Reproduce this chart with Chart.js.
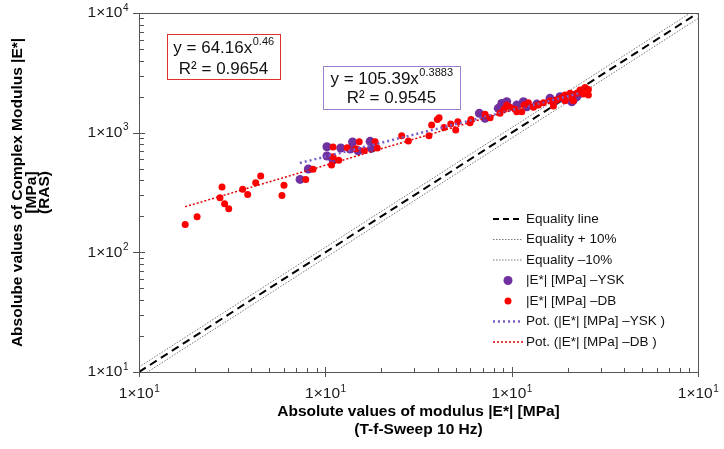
<!DOCTYPE html>
<html>
<head>
<meta charset="utf-8">
<script src="https://cdn.jsdelivr.net/npm/chart.js@4"></script>
<style>
  body { margin: 0; background: #fff; }
</style>
</head>
<body>
<canvas id="myChart" width="724" height="449"></canvas>
<script>
// values
const dbX = [17.7, 20.5, 27.9, 27.2, 28.8, 30.3, 36.0, 38.3, 42.3, 45.0, 58.5, 60.0, 78.5, 85.9, 108, 110, 110, 118, 131, 152,
  146, 162, 185, 190, 257, 279, 360, 372, 399, 408, 434, 471, 501, 514, 598, 605, 720, 766, 866, 910,
  941, 980, 1043, 1065, 1133, 1166, 1229, 1308, 1391, 1480, 1607, 1675, 1746, 1857, 1935, 2058, 2102, 2235, 2328, 2426,
  2477, 2581, 2581, 2143, 1935];
const dbY = [171, 198, 351, 286, 255, 231, 336, 305, 381, 434, 299, 363, 407, 494, 536, 759, 629, 587, 748, 840,
  734, 711, 840, 744, 942, 851, 942, 1157, 1291, 1332, 1107, 1180, 1052, 1233, 1210, 1291, 1422, 1332, 1450, 1566,
  1701, 1627, 1566, 1495, 1495, 1701, 1778, 1627, 1701, 1778, 1848, 1668, 1872, 1972, 1848, 2130, 1935, 2130, 2270, 2101,
  2390, 2300, 2061, 1848, 2061];
const yskX = [73.2, 81.1, 102, 102, 110, 121, 136, 140, 150, 174, 177, 671, 720, 848, 885, 941, 1065, 1156, 1205, 1364,
  1607, 1675, 1819, 1895, 2143, 2235, 2328, 2102];
const yskY = [407, 497, 763, 638, 590, 744, 729, 835, 706, 846, 739, 1450, 1317, 1596, 1757, 1812, 1701, 1812, 1646, 1733,
  1935, 1812, 1995, 1935, 1872, 1995, 2130, 1812];

// power trendlines as printed on the chart: y = a * x^b, over the x range of each series
const fitDB = { a: 64.16, b: 0.46, r2: 0.9654, from: 17.7, to: 2600 };
const fitYSK = { a: 105.39, b: 0.3883, r2: 0.9545, from: 73, to: 2330 };

const axisMin = 10, axisMax = 10000;
const xTickValues = [10, 100, 1000, 10000];
const xTickLabels = ['1×10^1', '1×10^1', '1×10^1', '1×10^1'];
const yTickValues = [10, 100, 1000, 10000];
const yTickLabels = ['1×10^1', '1×10^2', '1×10^3', '1×10^4'];

const FONT = '"Liberation Sans", Arial, sans-serif';

const pts = (xs, ys) => xs.map((x, i) => ({ x: x, y: ys[i] }));
const fitLine = f => [f.from, f.to].map(x => ({ x: x, y: f.a * Math.pow(x, f.b) }));
const eqLine = k => [axisMin, axisMax].map(x => ({ x: x, y: x * k }));

// text with a raised exponent
function supText(ctx, base, exp, x, y, size, align) {
  const big = size + 'px ' + FONT;
  const small = Math.round(size * 0.64) + 'px ' + FONT;
  ctx.font = big;
  const w1 = ctx.measureText(base).width;
  ctx.font = small;
  const w2 = ctx.measureText(exp).width;
  let x0 = x;
  if (align === 'right') x0 = x - w1 - w2;
  if (align === 'center') x0 = x - (w1 + w2) / 2;
  ctx.textAlign = 'left';
  ctx.textBaseline = 'middle';
  ctx.font = big;
  ctx.fillText(base, x0, y);
  ctx.font = small;
  ctx.fillText(exp, x0 + w1 + 0.5, y - size * 0.33);
}

const decor = {
  id: 'decor',
  afterDraw(chart) {
    const ctx = chart.ctx;
    const xs = chart.scales.x, ys = chart.scales.y;
    const a = chart.chartArea;
    ctx.save();

    // frame
    ctx.strokeStyle = '#555';
    ctx.lineWidth = 1;
    ctx.strokeRect(a.left + 0.5, a.top + 0.5, a.right - a.left, a.bottom - a.top);

    // ticks
    ctx.beginPath();
    for (let d = axisMin; d <= axisMax; d *= 10) {
      const px = Math.round(xs.getPixelForValue(d)) + 0.5;
      ctx.moveTo(px, a.bottom - 5); ctx.lineTo(px, a.bottom + 5);
      const py = Math.round(ys.getPixelForValue(d)) + 0.5;
      ctx.moveTo(a.left - 6, py); ctx.lineTo(a.left + 6, py);
      if (d < axisMax) {
        for (let m = 2; m < 10; m++) {
          const mx = Math.round(xs.getPixelForValue(m * d)) + 0.5;
          ctx.moveTo(mx, a.bottom - 4); ctx.lineTo(mx, a.bottom);
          const my = Math.round(ys.getPixelForValue(m * d)) + 0.5;
          ctx.moveTo(a.left, my); ctx.lineTo(a.left + 5, my);
        }
      }
    }
    ctx.stroke();

    // tick labels
    ctx.fillStyle = '#1a1a1a';
    xTickValues.forEach((v, i) => {
      const p = xTickLabels[i].split('^');
      supText(ctx, p[0], p[1], xs.getPixelForValue(v), a.bottom + 22, 15.5, 'center');
    });
    yTickValues.forEach((v, i) => {
      const p = yTickLabels[i].split('^');
      supText(ctx, p[0], p[1], a.left - 11, ys.getPixelForValue(v), 15.5, 'right');
    });

    // axis titles
    ctx.fillStyle = '#000';
    ctx.font = 'bold 15.5px ' + FONT;
    ctx.textAlign = 'center';
    ctx.textBaseline = 'middle';
    const cx = (a.left + a.right) / 2;
    ctx.fillText('Absolute values of modulus |E*| [MPa]', cx, 412);
    ctx.fillText('(T-f-Sweep 10 Hz)', cx, 430);
    const cy = (a.top + a.bottom) / 2;
    [['Absolube values of Complex Modulus |E*|', 18], ['[MPa]', 32], ['(RAS)', 45]].forEach(t => {
      ctx.save();
      ctx.translate(t[1], cy);
      ctx.rotate(-Math.PI / 2);
      ctx.fillText(t[0], 0, 0);
      ctx.restore();
    });

    // equation boxes
    ctx.lineWidth = 1;
    ctx.fillStyle = '#fff';
    ctx.fillRect(167, 34, 113, 45);
    ctx.strokeStyle = '#e03030';
    ctx.strokeRect(167.5, 34.5, 113, 45);
    ctx.fillRect(323, 66, 137, 43);
    ctx.strokeStyle = '#9a7fcf';
    ctx.strokeRect(323.5, 66.5, 137, 43);
    ctx.fillStyle = '#111';
    supText(ctx, 'y = ' + fitDB.a.toFixed(2) + 'x', String(fitDB.b), 223.5, 48, 17, 'center');
    ctx.font = '17px ' + FONT; ctx.textAlign = 'center';
    ctx.fillText('R² = ' + fitDB.r2.toFixed(4), 223.5, 69);
    supText(ctx, 'y = ' + fitYSK.a.toFixed(2) + 'x', String(fitYSK.b), 391.5, 79, 17, 'center');
    ctx.font = '17px ' + FONT; ctx.textAlign = 'center';
    ctx.fillText('R² = ' + fitYSK.r2.toFixed(4), 391.5, 98);

    // legend
    const lx0 = 493, lx1 = 523, tx = 526;
    chart.data.datasets.forEach((ds, i) => {
      const y = 219 + i * 20.5;
      ctx.save();
      if (ds.showLine === false) {
        ctx.fillStyle = ds.backgroundColor;
        ctx.beginPath();
        ctx.arc(508, y, ds.pointRadius, 0, Math.PI * 2);
        ctx.fill();
      } else {
        ctx.strokeStyle = ds.borderColor;
        ctx.lineWidth = ds.borderWidth;
        ctx.setLineDash(ds.legendDash || ds.borderDash || []);
        ctx.beginPath();
        ctx.moveTo(lx0, y); ctx.lineTo(lx1, y);
        ctx.stroke();
      }
      ctx.restore();
      ctx.fillStyle = '#111';
      ctx.font = '13.5px ' + FONT;
      ctx.textAlign = 'left';
      ctx.textBaseline = 'middle';
      ctx.fillText(ds.label, tx, y);
    });

    ctx.restore();
  }
};

const ctx = document.getElementById('myChart');

new Chart(ctx, {
  type: 'scatter',
  data: {
    datasets: [
      { label: 'Equality line', data: eqLine(1), showLine: true, pointRadius: 0, borderColor: '#000', borderWidth: 2, borderDash: [8, 5], legendDash: [6, 4], order: 5 },
      { label: 'Equality + 10%', data: eqLine(1.1), showLine: true, pointRadius: 0, borderColor: '#777', borderWidth: 1, borderDash: [1.5, 1.5], order: 6 },
      { label: 'Equality \u201310%', data: eqLine(0.9), showLine: true, pointRadius: 0, borderColor: '#777', borderWidth: 1, borderDash: [1.5, 1.5], order: 6 },
      { label: '|E*| [MPa] \u2013YSK', data: pts(yskX, yskY), showLine: false, pointRadius: 4.5, backgroundColor: '#7030a0', borderWidth: 0, order: 3 },
      { label: '|E*| [MPa] \u2013DB', data: pts(dbX, dbY), showLine: false, pointRadius: 3.5, backgroundColor: '#ff0000', borderWidth: 0, order: 2 },
      { label: 'Pot. (|E*| [MPa] \u2013YSK )', data: fitLine(fitYSK), showLine: true, pointRadius: 0, borderColor: '#7a5cc8', borderWidth: 2.5, borderDash: [2, 3], order: 1 },
      { label: 'Pot. (|E*| [MPa] \u2013DB )', data: fitLine(fitDB), showLine: true, pointRadius: 0, borderColor: '#e00000', borderWidth: 1.5, borderDash: [2, 2], order: 0 }
    ]
  },
  options: {
    responsive: false,
    animation: false,
    events: [],
    layout: { padding: { left: 139, top: 13, right: 26, bottom: 77 } },
    plugins: { legend: { display: false }, tooltip: { enabled: false } },
    scales: {
      x: { type: 'logarithmic', min: axisMin, max: axisMax, display: false },
      y: { type: 'logarithmic', min: axisMin, max: axisMax, display: false }
    }
  },
  plugins: [decor]
});
</script>
</body>
</html>
